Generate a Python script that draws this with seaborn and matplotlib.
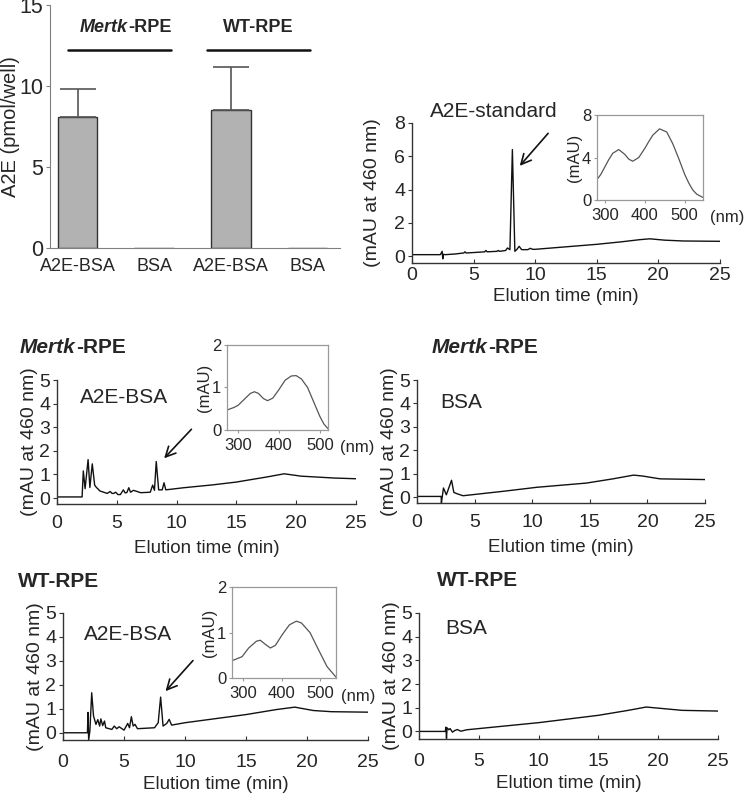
import matplotlib
matplotlib.use("Agg")
import matplotlib.pyplot as plt
import seaborn as sns
import pandas as pd

# bar chart: A2E per well
bar_keys = ["Mertk A2E-BSA", "Mertk BSA", "WT A2E-BSA", "WT BSA"]
bar_labels = ["A2E-BSA", "BSA", "A2E-BSA", "BSA"]
bar_means = [8.1, 0.0, 8.55, 0.0]
bar_errs = [1.7, 0.0, 2.65, 0.0]

# chromatograms (elution time in min, mAU at 460 nm)
std_t = [0, 2.3, 2.45, 2.5, 2.55, 2.7, 3.5, 4.2, 4.3, 4.4, 5.5, 5.9, 6.0, 6.1, 6.9, 7.0, 7.1, 7.6,
         7.75, 7.95, 8.15, 8.35, 8.5, 8.7, 8.9, 9.4, 9.6, 9.8, 10, 12.5, 15, 17, 18.5, 19.3, 20.5, 22, 25]
std_mau = [0.1, 0.1, 0.3, -0.15, 0.12, 0.1, 0.14, 0.2, 0.27, 0.2, 0.25, 0.27, 0.35, 0.27, 0.3, 0.35, 0.3, 0.35,
           0.5, 0.4, 6.4, 0.3, 0.4, 0.6, 0.4, 0.4, 0.48, 0.42, 0.42, 0.57, 0.72, 0.87, 1.0, 1.05, 0.97, 0.92, 0.9]

mk_a2e_t = [0, 2.1, 2.2, 2.35, 2.6, 2.75, 2.95, 3.15, 3.3, 3.6, 4.2, 4.45, 4.6, 4.75, 4.9, 5.1, 5.3, 5.55, 5.7,
            5.85, 6.0, 6.15, 6.4, 7.0, 7.8, 8.0, 8.15, 8.3, 8.5, 8.8, 8.95, 9.1, 10.6, 13, 15, 17.6, 19, 20.4, 23.2, 25]
mk_a2e_mau = [0.05, 0.05, 1.15, 0.4, 1.63, 0.45, 1.45, 0.55, 0.45, 0.3, 0.2, 0.28, 0.2, 0.2, 0.25, 0.15, 0.15, 0.35, 0.22,
              0.24, 0.44, 0.25, 0.33, 0.23, 0.25, 0.55, 0.33, 1.55, 0.35, 0.35, 0.65, 0.35, 0.44, 0.56, 0.68, 0.9, 1.03, 0.93, 0.85, 0.82]

mk_bsa_t = [0, 2.1, 2.12, 2.3, 2.55, 3.0, 3.2, 3.45, 4.0, 7.5, 10.4, 14.7, 17.0, 18.8, 19.6, 21.1, 25]
mk_bsa_mau = [0.03, 0.03, -0.25, 0.39, 0.1, 0.72, 0.2, 0.15, 0.06, 0.25, 0.42, 0.6, 0.78, 0.94, 0.9, 0.78, 0.75]

wt_a2e_t = [0, 2.0, 2.05, 2.1, 2.2, 2.35, 2.5, 2.7, 2.85, 3.0, 3.1, 3.25, 3.4, 3.5, 4.0, 4.2, 4.4, 4.6, 5.0, 5.3,
            5.45, 5.6, 5.75, 5.9, 6.1, 7.5, 7.8, 8.0, 8.2, 8.5, 8.7, 8.9, 10, 15, 17.5, 19, 20.5, 22, 25]
wt_a2e_mau = [0, 0, 0.85, -0.3, 0.07, 1.67, 0.7, 0.35, 0.55, 0.28, 0.58, 0.3, 0.49, 0.21, 0.14, 0.28, 0.17, 0.25, 0.11, 0.39,
              0.21, 0.67, 0.28, 0.35, 0.17, 0.21, 0.42, 1.49, 0.28, 0.39, 0.56, 0.32, 0.42, 0.76, 0.97, 1.07, 0.93, 0.88, 0.86]

wt_bsa_t = [0, 2.2, 2.25, 2.3, 2.35, 2.5, 2.6, 2.8, 3.0, 3.2, 3.5, 4, 10, 15, 17.5, 19, 20.5, 22, 25]
wt_bsa_mau = [0, 0, 0.18, -0.3, 0.15, 0.07, 0.12, -0.03, 0.04, 0.08, 0.01, 0.07, 0.37, 0.68, 0.89, 1.03, 0.96, 0.89, 0.86]

# absorbance spectra of the A2E peak (nm, mAU)
std_nm = [280, 290, 300, 310, 320, 335, 350, 360, 370, 385, 400, 410, 420, 437, 455, 470, 485, 500, 510, 520, 530, 545]
std_abs = [1.9, 2.4, 3.1, 3.8, 4.4, 4.75, 4.3, 3.85, 3.65, 4.0, 4.85, 5.5, 6.1, 6.7, 6.4, 5.3, 3.9, 2.4, 1.6, 0.95, 0.55, 0.25]

mk_nm = [273, 290, 300, 315, 330, 340, 350, 362, 372, 385, 400, 415, 430, 442, 455, 470, 485, 500, 510, 520]
mk_abs = [0.47, 0.53, 0.58, 0.72, 0.86, 0.9, 0.86, 0.74, 0.69, 0.75, 0.95, 1.17, 1.27, 1.28, 1.2, 1.0, 0.66, 0.32, 0.14, 0.03]

wt_nm = [272, 298, 315, 335, 345, 358, 371, 384, 402, 420, 438, 451, 473, 495, 517, 540]
wt_abs = [0.38, 0.47, 0.66, 0.81, 0.83, 0.74, 0.66, 0.72, 0.96, 1.17, 1.25, 1.21, 1.0, 0.62, 0.25, 0.02]

sns.set_style("ticks")
plt.rcParams["font.family"] = ["Liberation Sans", "DejaVu Sans"]

fig = plt.figure(figsize=(7.45, 7.96), dpi=100)


def chromatogram(rect, t, mau, ymax, ymin, xpad=8, labelpad=3):
    ax = fig.add_axes(rect)
    df = pd.DataFrame({"t": t, "mau": mau})
    sns.lineplot(data=df, x="t", y="mau", ax=ax, color="#111111", lw=1.0, sort=False, estimator=None)
    ax.set_xlim(0, 25)
    ax.set_ylim(ymin, ymax)
    ax.set_xticks([0, 5, 10, 15, 20, 25])
    ax.set_yticks(range(0, int(ymax) + 1, 2 if ymax > 5 else 1))
    sns.despine(ax=ax)
    for s in ["left", "bottom"]:
        ax.spines[s].set_color("#333333")
        ax.spines[s].set_linewidth(1.0)
    ax.tick_params(axis="x", direction="in", length=3, labelsize=14, pad=xpad, color="#333333")
    ax.tick_params(axis="y", direction="out", length=3, labelsize=14, pad=2, color="#333333")
    ax.set_xlabel("Elution time (min)", fontsize=13.5, labelpad=labelpad)
    ax.set_ylabel("(mAU at 460 nm)", fontsize=14, labelpad=1)
    return ax


def spectrum(rect, nm, a, xlim, ymax, nm_x):
    ax = fig.add_axes(rect)
    df = pd.DataFrame({"nm": nm, "abs": a})
    sns.lineplot(data=df, x="nm", y="abs", ax=ax, color="#555555", lw=0.9, sort=False, estimator=None)
    ax.set_xlim(*xlim)
    ax.set_ylim(0, ymax)
    ax.set_xticks([300, 400, 500])
    ax.set_yticks([0, ymax / 2, ymax] if ymax > 2 else [0, 1, 2])
    ax.set_yticklabels([f"{v:g}" for v in ax.get_yticks()])
    for s in ax.spines.values():
        s.set_color("#999999")
        s.set_linewidth(0.9)
    ax.tick_params(axis="x", length=2, labelsize=12, pad=4, color="#999999")
    ax.tick_params(axis="y", length=2, labelsize=12, pad=2, color="#999999")
    ax.set_xlabel("")
    ax.set_ylabel("(mAU)", fontsize=12, labelpad=0)
    ax.text(nm_x, -0.2, "(nm)", transform=ax.transAxes, fontsize=12, va="center", ha="left")
    return ax


def panel_title(x, y, text_it, text_rest, size=15):
    # italic gene name followed by upright suffix
    if text_it:
        t1 = fig.text(x, y, text_it, fontsize=size, fontweight="bold", style="italic", va="center")
        fig.axes[-1].annotate(text_rest, xy=(1, 0.5), xycoords=t1, va="center", ha="left",
                              fontsize=size, fontweight="bold", annotation_clip=False)
    else:
        fig.text(x, y, text_rest, fontsize=size, fontweight="bold", va="center")


# ---- bar chart ----
ax_bar = fig.add_axes([0.067, 0.6884, 0.389, 0.3053])
bar_df = pd.DataFrame({"key": bar_keys, "a2e": bar_means})
sns.barplot(data=bar_df, x="key", y="a2e", ax=ax_bar, color="#b2b2b2", edgecolor="#333333",
            linewidth=1.0, width=0.52, saturation=1, errorbar=None)
for i, (m, e) in enumerate(zip(bar_means, bar_errs)):
    if e > 0:
        ax_bar.errorbar(i, m, yerr=[[0], [e]], color="#555555", lw=1.2, capsize=13, capthick=1.2)
ax_bar.set_xlim(-0.36, 3.42)
ax_bar.set_ylim(0, 15)
ax_bar.set_yticks([0, 5, 10, 15])
ax_bar.set_xticks(range(len(bar_labels)))
ax_bar.set_xticklabels(bar_labels)
sns.despine(ax=ax_bar)
for s in ["left", "bottom"]:
    ax_bar.spines[s].set_color("#808080")
ax_bar.tick_params(axis="y", labelsize=15.5, length=3, color="#808080", pad=2)
ax_bar.tick_params(axis="x", labelsize=13, length=0, pad=7)
ax_bar.set_xlabel("")
ax_bar.set_ylabel("A2E (pmol/well)", fontsize=14.5, va="center")
ax_bar.yaxis.set_label_coords(-0.135, 0.5)
# group labels above bars
ax_bar.plot([-0.12, 1.22], [12.2, 12.2], color="#111111", lw=1.8)
ax_bar.plot([1.69, 3.03], [12.2, 12.2], color="#111111", lw=1.8)
t_mk = ax_bar.text(0.03, 13.6, "Mertk", fontsize=13, fontweight="bold", style="italic", va="center")
ax_bar.annotate("-RPE", xy=(1, 0.5), xycoords=t_mk, va="center", fontsize=13, fontweight="bold")
ax_bar.text(2.36, 13.6, "WT-RPE", fontsize=13, fontweight="bold", va="center", ha="center")

# ---- A2E standard ----
ax_std = chromatogram([0.553, 0.6696, 0.4134, 0.176], std_t, std_mau, 8, -0.4, xpad=3)
ax_std.yaxis.set_label_coords(-0.1, 0.5)
ax_std.text(0.058, 1.08, "A2E-standard", transform=ax_std.transAxes, fontsize=15, va="center")
ax_std.annotate("", xy=(8.6, 5.3), xytext=(11.2, 7.5),
                arrowprops=dict(arrowstyle="->", color="#111111", lw=1.2, mutation_scale=18))
spectrum([0.801, 0.7487, 0.1423, 0.1068], std_nm, std_abs, (280, 545), 8, 1.07)

# ---- Mertk-RPE ----
ax_mk_a = chromatogram([0.0765, 0.3668, 0.4013, 0.1558], mk_a2e_t, mk_a2e_mau, 5, -0.25, labelpad=6)
ax_mk_a.text(0.077, 0.855, "A2E-BSA", transform=ax_mk_a.transAxes, fontsize=15, va="center")
ax_mk_a.annotate("", xy=(8.8, 1.6), xytext=(11.4, 3.0),
                 arrowprops=dict(arrowstyle="->", color="#111111", lw=1.2, mutation_scale=18))
spectrum([0.3047, 0.4598, 0.1356, 0.1068], mk_nm, mk_abs, (273, 520), 2, 1.12)
ax_mk_b = chromatogram([0.5597, 0.3681, 0.3866, 0.1545], mk_bsa_t, mk_bsa_mau, 5, -0.25, labelpad=6)
ax_mk_b.text(0.08, 0.82, "BSA", transform=ax_mk_b.transAxes, fontsize=15, va="center")
panel_title(0.027, 0.563, "Mertk", "-RPE")
panel_title(0.58, 0.563, "Mertk", "-RPE")

# ---- WT-RPE ----
ax_wt_a = chromatogram([0.0846, 0.0704, 0.4094, 0.1595], wt_a2e_t, wt_a2e_mau, 5, -0.3, xpad=10, labelpad=4)
ax_wt_a.text(0.068, 0.83, "A2E-BSA", transform=ax_wt_a.transAxes, fontsize=15, va="center")
ax_wt_a.annotate("", xy=(8.25, 1.65), xytext=(10.8, 3.1),
                 arrowprops=dict(arrowstyle="->", color="#111111", lw=1.2, mutation_scale=18))
spectrum([0.3114, 0.1482, 0.1396, 0.1143], wt_nm, wt_abs, (272, 540), 2, 1.05)
ax_wt_b = chromatogram([0.5624, 0.0716, 0.4013, 0.1583], wt_bsa_t, wt_bsa_mau, 5, -0.32, xpad=10, labelpad=4)
ax_wt_b.text(0.087, 0.88, "BSA", transform=ax_wt_b.transAxes, fontsize=15, va="center")
panel_title(0.024, 0.269, "", "WT-RPE")
panel_title(0.587, 0.271, "", "WT-RPE")

fig.savefig("out.png", dpi=100)
